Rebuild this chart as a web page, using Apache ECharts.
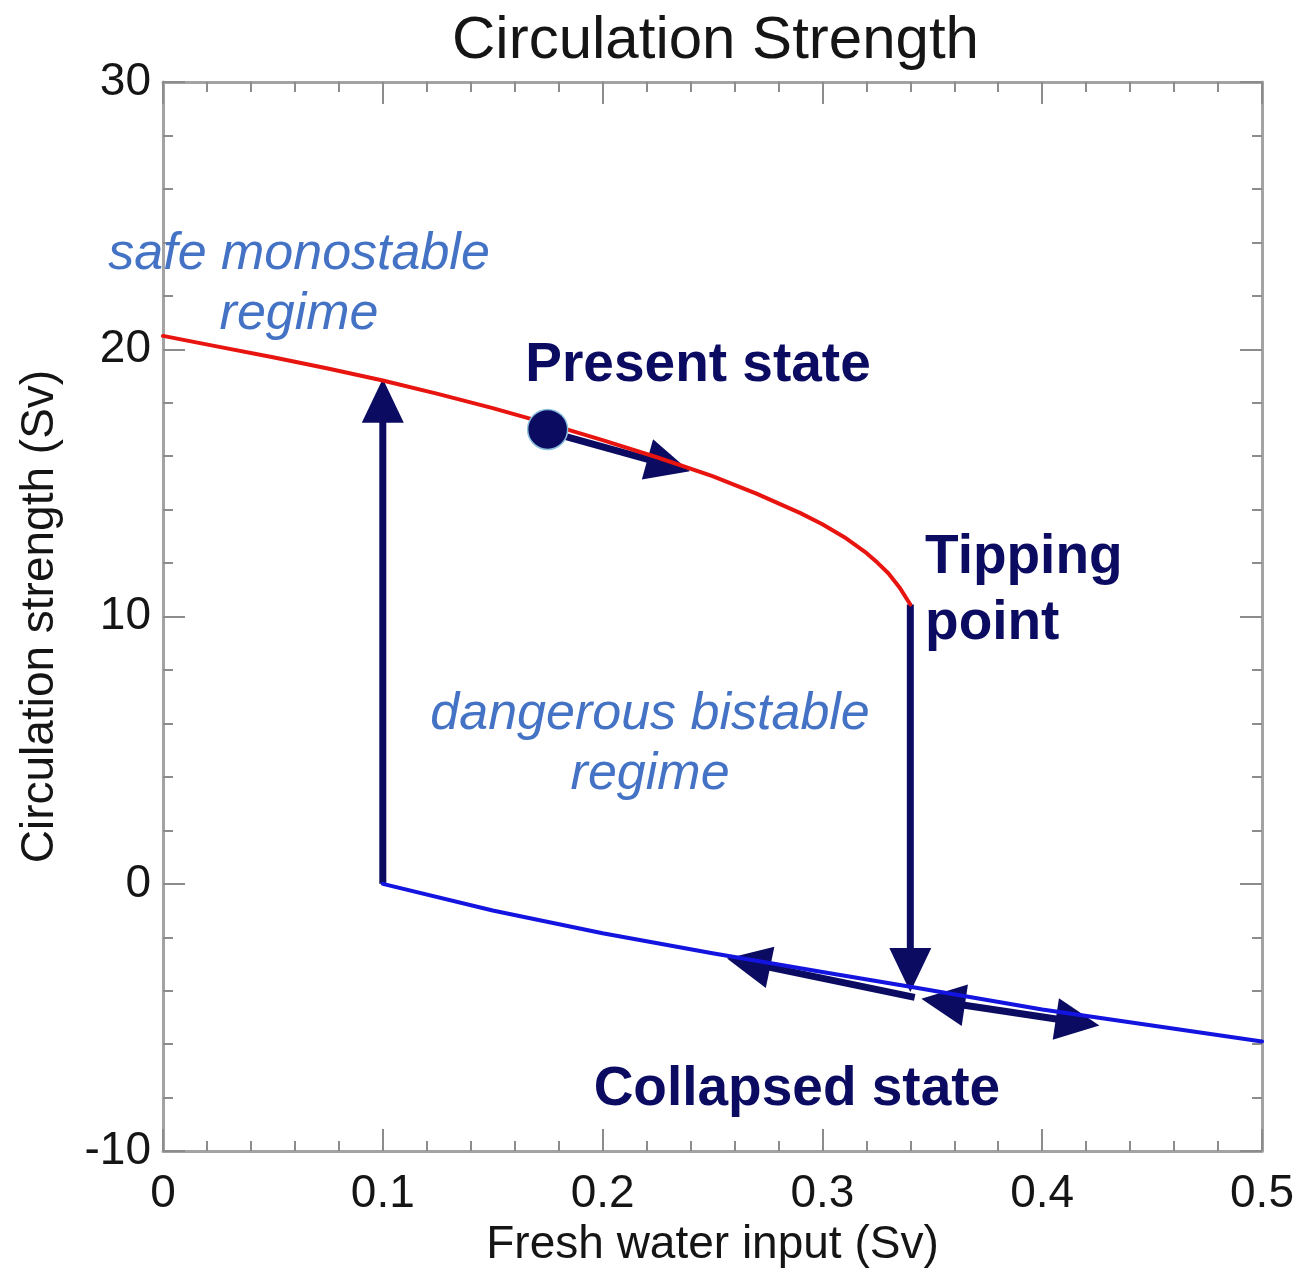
<!DOCTYPE html>
<html>
<head>
<meta charset="utf-8">
<script src="https://cdn.jsdelivr.net/npm/echarts@6/dist/echarts.min.js"></script>
<style>
html,body{margin:0;padding:0;background:#ffffff;}
#chart{width:1299px;height:1273px;}
</style>
</head>
<body>
<div id="chart"></div>
<script>
// ---------- data ----------
const titleText = 'Circulation Strength';
const xAxisName = 'Fresh water input (Sv)';
const yAxisName = 'Circulation strength (Sv)';
const xTickValues = [0, 0.1, 0.2, 0.3, 0.4, 0.5];
const yTickValues = [-10, 0, 10, 20, 30];

// upper (red) branch: strong circulation, ends at the tipping point
const stableX = [0, 0.025, 0.05, 0.075, 0.1, 0.125, 0.15, 0.175, 0.2, 0.225, 0.25, 0.27, 0.29, 0.30, 0.31, 0.32, 0.325, 0.33, 0.335, 0.34];
const stableY = [20.5, 20.1, 19.7, 19.28, 18.83, 18.33, 17.8, 17.22, 16.6, 15.95, 15.25, 14.6, 13.87, 13.45, 12.97, 12.38, 12.02, 11.62, 11.1, 10.45];

// lower (blue) branch: collapsed state
const collapsedX = [0.1, 0.15, 0.2, 0.25, 0.3, 0.34, 0.4, 0.45, 0.5];
const collapsedY = [0, -1.0, -1.85, -2.6, -3.3, -3.85, -4.7, -5.3, -5.9];

// present state marker
const presentState = [0.175, 17.0];

// arrows (data coordinates): start, end (tip), double-headed flag
const arrowStart = [[0.1, 0], [0.178, 16.85], [0.34, 10.45], [0.342, -4.25], [0.345, -4.3]];
const arrowEnd   = [[0.1, 18.9], [0.2397, 15.44], [0.34, -4.05], [0.2566, -2.79], [0.426, -5.3]];
const arrowBoth  = [0, 0, 0, 0, 1];

// text annotations (anchor in data coordinates)
const noteTexts   = ['safe monostable\nregime', 'dangerous bistable\nregime', 'Present state', 'Tipping\npoint', 'Collapsed state'];
const noteAnchors = [[0.0619, 22.44], [0.2216, 5.21], [0.2434, 19.39], [0.3467, 10.98], [0.2884, -7.70]];
const noteKinds   = ['regime', 'regime', 'state', 'stateLeft', 'state'];

// ---------- styles ----------
const FONT = "'Liberation Sans', Arial, Helvetica, sans-serif";
const NAVY = '#0b0b62';
const REGIME_BLUE = '#4472c4';
const AXIS_GRAY = '#a3a3a3';
const TICK_GRAY = '#8c8c8c';

const chart = echarts.init(document.getElementById('chart'), null, {renderer: 'canvas'});

const zip = (a, b) => a.map((v, i) => [v, b[i]]);
const arrowData = arrowStart.map((s, i) => [s[0], s[1], arrowEnd[i][0], arrowEnd[i][1], arrowBoth[i]]);

function axisCommon(showLabel, margin) {
  return {
    axisLine: {show: true, onZero: false, lineStyle: {color: AXIS_GRAY, width: 3}},
    axisTick: {show: true, inside: true, length: 22, lineStyle: {color: TICK_GRAY, width: 2}},
    minorTick: {show: true, splitNumber: 5, length: 10, lineStyle: {color: TICK_GRAY, width: 2}},
    splitLine: {show: false},
    minorSplitLine: {show: false},
    axisLabel: {show: showLabel, fontSize: 46, color: '#151515', fontFamily: FONT, margin: margin || 12}
  };
}

const option = {
  backgroundColor: '#ffffff',
  animation: false,
  title: {
    text: titleText,
    left: 447,
    top: 6,
    textStyle: {fontSize: 60, fontWeight: 'normal', color: '#151515', fontFamily: FONT}
  },
  grid: {left: 163, right: 37, top: 82, bottom: 116, containLabel: false},
  xAxis: [
    Object.assign({
      type: 'value', position: 'bottom', min: xTickValues[0], max: xTickValues[xTickValues.length - 1], interval: 0.1,
      name: xAxisName, nameLocation: 'middle', nameGap: 62,
      nameTextStyle: {fontSize: 46, color: '#151515', fontFamily: FONT}
    }, axisCommon(true, 20)),
    Object.assign({
      type: 'value', position: 'top', min: xTickValues[0], max: xTickValues[xTickValues.length - 1], interval: 0.1
    }, axisCommon(false))
  ],
  yAxis: [
    Object.assign({
      type: 'value', position: 'left', min: yTickValues[0], max: yTickValues[yTickValues.length - 1], interval: 10,
      name: yAxisName, nameLocation: 'middle', nameGap: 100,
      nameTextStyle: {fontSize: 46, color: '#151515', fontFamily: FONT}
    }, axisCommon(true, 12)),
    Object.assign({
      type: 'value', position: 'right', min: yTickValues[0], max: yTickValues[yTickValues.length - 1], interval: 10
    }, axisCommon(false))
  ],
  series: [
    {
      name: 'arrows', type: 'custom', xAxisIndex: 0, yAxisIndex: 0, z: 2, silent: true,
      encode: {x: [0, 2], y: [1, 3]},
      data: arrowData,
      renderItem: function (params, api) {
        const p1 = api.coord([api.value(0), api.value(1)]);
        const p2 = api.coord([api.value(2), api.value(3)]);
        const both = api.value(4) === 1;
        const dx = p2[0] - p1[0], dy = p2[1] - p1[1];
        const L = Math.hypot(dx, dy) || 1;
        const ux = dx / L, uy = dy / L, nx = -uy, ny = ux;
        const HL = 44, HW = 21;
        const head = (tip, ex, ey) => ({
          type: 'polygon',
          shape: {points: [
            [tip[0], tip[1]],
            [tip[0] - ex * HL + nx * HW, tip[1] - ey * HL + ny * HW],
            [tip[0] - ex * HL - nx * HW, tip[1] - ey * HL - ny * HW]
          ]},
          style: {fill: NAVY}
        });
        const s = both ? [p1[0] + ux * HL * 0.8, p1[1] + uy * HL * 0.8] : p1;
        const e = [p2[0] - ux * HL * 0.8, p2[1] - uy * HL * 0.8];
        const children = [
          {type: 'line', shape: {x1: s[0], y1: s[1], x2: e[0], y2: e[1]}, style: {stroke: NAVY, lineWidth: 7}},
          head(p2, ux, uy)
        ];
        if (both) children.push(head(p1, -ux, -uy));
        return {type: 'group', children: children};
      }
    },
    {
      name: 'stable', type: 'line', xAxisIndex: 0, yAxisIndex: 0, z: 3, silent: true,
      data: zip(stableX, stableY), smooth: false, showSymbol: false, symbol: 'none',
      lineStyle: {color: '#e8140f', width: 4, join: 'round', cap: 'round'}
    },
    {
      name: 'collapsed', type: 'line', xAxisIndex: 0, yAxisIndex: 0, z: 3, silent: true,
      data: zip(collapsedX, collapsedY), smooth: false, showSymbol: false, symbol: 'none',
      lineStyle: {color: '#1414e0', width: 4, join: 'round', cap: 'round'}
    },
    {
      name: 'present', type: 'scatter', xAxisIndex: 0, yAxisIndex: 0, z: 4, silent: true,
      data: [presentState], symbol: 'circle', symbolSize: 40,
      itemStyle: {color: NAVY, opacity: 1, borderColor: '#8cc0dc', borderWidth: 1.5}
    }
  ]
};

chart.setOption(option);

const noteStyles = {
  regime:    {fontSize: 52, fontStyle: 'italic', fontWeight: 'normal', fill: REGIME_BLUE, align: 'center', lineHeight: 60},
  state:     {fontSize: 55, fontStyle: 'normal', fontWeight: 'bold', fill: NAVY, align: 'center', lineHeight: 66},
  stateLeft: {fontSize: 55, fontStyle: 'normal', fontWeight: 'bold', fill: NAVY, align: 'left', lineHeight: 66}
};

chart.setOption({
  graphic: noteTexts.map((t, i) => {
    const p = chart.convertToPixel({xAxisIndex: 0, yAxisIndex: 0}, noteAnchors[i]);
    const st = noteStyles[noteKinds[i]];
    return {
      type: 'text', x: p[0], y: p[1], z: 10, silent: true,
      style: {
        text: t, fontFamily: FONT, fontSize: st.fontSize, fontStyle: st.fontStyle, fontWeight: st.fontWeight,
        fill: st.fill, align: st.align, verticalAlign: 'middle', lineHeight: st.lineHeight
      }
    };
  })
});
</script>
</body>
</html>
